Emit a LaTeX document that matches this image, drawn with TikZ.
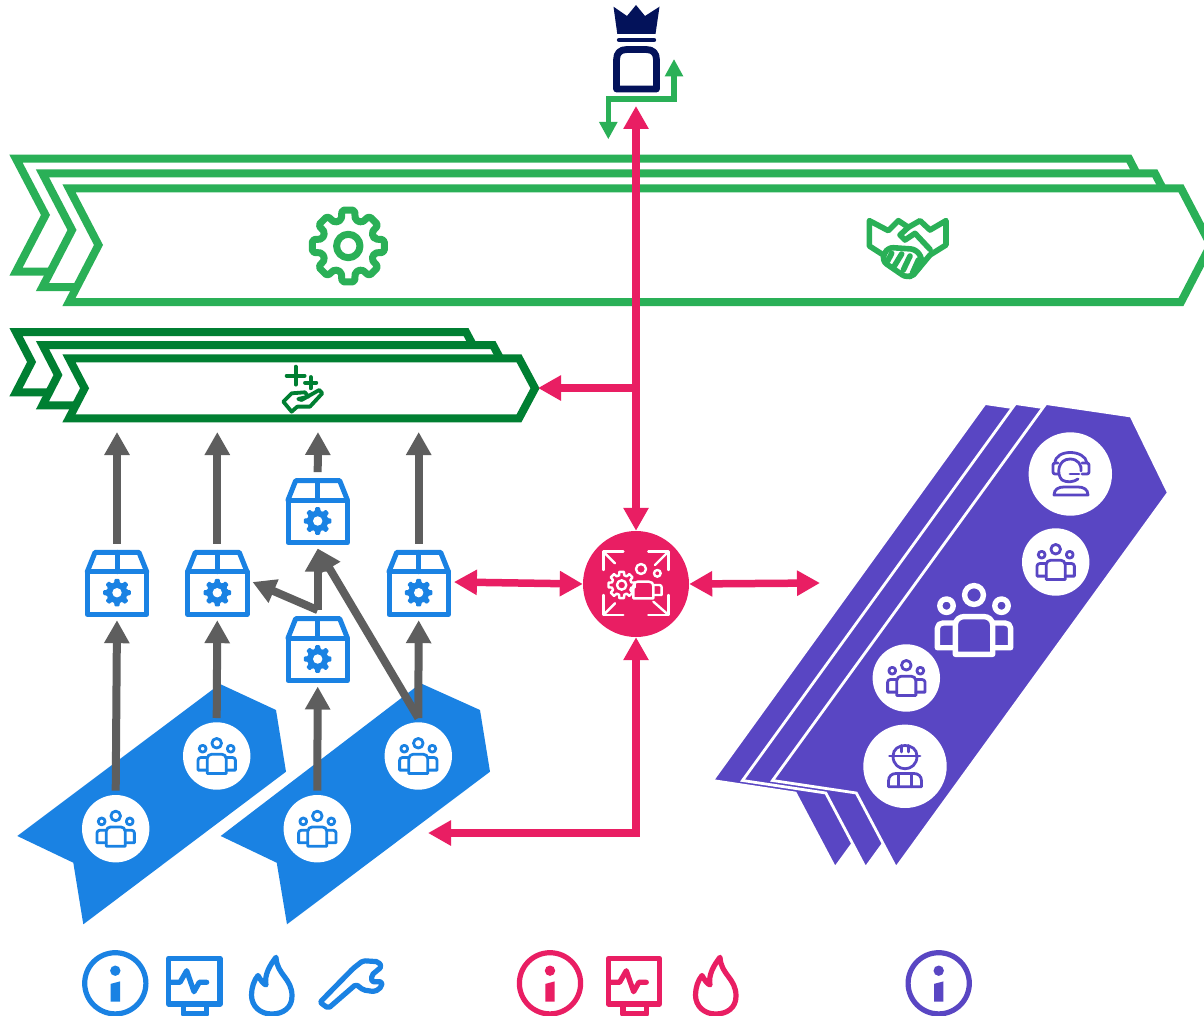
\documentclass[tikz,border=0pt]{standalone}
\usetikzlibrary{arrows.meta}
\definecolor{lgreen}{HTML}{2AB057}
\definecolor{dgreen}{HTML}{007F32}
\definecolor{bluec}{HTML}{1A82E3}
\definecolor{pinkc}{HTML}{E91E63}
\definecolor{purplec}{HTML}{5946C3}
\definecolor{grayc}{HTML}{5E5E5E}
\definecolor{navyc}{HTML}{03125A}
\tikzset{
  iconline/.style={line join=round,line cap=round},
  grayarrow/.style={draw=grayc,line width=8pt,-{Triangle[length=23pt,width=24pt]},color=grayc},
  pinkarrow/.style={draw=pinkc,line width=7.5pt,{Triangle[length=23pt,width=24pt]}-{Triangle[length=23pt,width=24pt]},color=pinkc},
  pinkone/.style={draw=pinkc,line width=7.5pt,-{Triangle[length=23pt,width=24pt]},color=pinkc},
  greenarrow/.style={draw=lgreen,line width=5.5pt,{Triangle[length=17.5pt,width=17.5pt]}-{Triangle[length=17.5pt,width=17.5pt]},color=lgreen},
  lbar/.style={draw=lgreen,line width=8pt,fill=white,miter limit=10},
  dbar/.style={draw=dgreen,line width=8pt,fill=white,miter limit=10},
  whitedisc/.style={circle,fill=white,inner sep=0pt,minimum size=67.4pt,outer sep=4.3pt},
  bigdisc/.style={circle,fill=white,inner sep=0pt,minimum size=83.4pt},
  boxslot/.style={rectangle,inner sep=0pt,minimum width=70pt,minimum height=76pt},
  purpleshape/.style={fill=purplec,draw=white,line width=2.8pt,line join=miter,miter limit=10},
}
% gear outline (centre at origin): outer radius, root radius
\newcommand{\gearoutline}[2]{(-15:#2) \foreach \gi in {0,...,7} {
  -- ({\gi*45-15}:#2) -- ({\gi*45-10}:#1) -- ({\gi*45+10}:#1) -- ({\gi*45+15}:#2)} -- cycle}
% team icon: x,y,scale,colour,line width
\newcommand{\teamicon}[5]{\begin{scope}[shift={(#1,#2)},scale=#3,draw=#4,line width=#5,iconline]
  \draw (0,-25) circle (9.4);
  \draw (-27.5,-14.3) circle (6.7);
  \draw (27.5,-14.3) circle (6.7);
  \draw (-18.7,34.3) -- (-18.7,5) .. controls (-18.7,-0.5) and (-14,-3.4) .. (-10,-3.4) -- (10,-3.4) .. controls (14,-3.4) and (18.7,-0.5) .. (18.7,5) -- (18.7,34.3) -- cycle;
  \draw (-18.7,27.7) -- (-36.6,27.7) -- (-36.6,8) .. controls (-36.6,5) and (-34,3) .. (-31,3) -- (-18.7,3);
  \draw (18.7,27.7) -- (36.6,27.7) -- (36.6,8) .. controls (36.6,5) and (34,3) .. (31,3) -- (18.7,3);
\end{scope}}
% parcel icon
\newcommand{\parcelicon}[2]{\begin{scope}[shift={(#1,#2)},draw=bluec,line width=5pt,iconline]
  \draw (-29.7,-12) rectangle (29.7,30.7);
  \draw (-29.7,-12) -- (-22,-31.3) -- (22,-31.3) -- (29.7,-12);
  \draw (0,-31.3) -- (0,-12);
  \begin{scope}[shift={(0,9)}]
    \fill[bluec,rounded corners=1pt] \gearoutline{14}{10.4};
    \fill[white] (0,0) circle (4.7);
  \end{scope}
\end{scope}}
% info icon
\newcommand{\infoicon}[2]{\begin{scope}[shift={(#1,983.3)}]
  \draw[#2,line width=5.2pt] (0,0) circle (30.6);
  \fill[#2] (0,-12.6) circle (5.2);
  \fill[#2] (-4.7,0.6) -- (4.7,-1.9) -- (4.7,18.4) -- (-4.7,18.4) -- cycle;
\end{scope}}
% monitor icon (x shift from the blue one)
\newcommand{\monitoricon}[2]{\begin{scope}[shift={(#1,0)},draw=#2,line width=5.2pt,iconline]
  \draw (168.7,958.3) rectangle (220,1004);
  \draw (183.3,1004) -- (183.3,1014) -- (206.7,1014) -- (206.7,1004);
  \draw (170,982.3) -- (180,982.3) -- (186.7,970.7) -- (194,991.7) -- (199.3,982.3) -- (206.7,982.3);
\end{scope}}
\newcommand{\flameicon}[2]{\begin{scope}[shift={(#1,0)},draw=#2,line width=5.2pt,iconline]
  \draw (276,957.3) .. controls (277,975) and (292,978) .. (292,996) .. controls (292,1008) and (283,1014) .. (271.5,1014) .. controls (260,1014) and (251.5,1006) .. (251.5,995) .. controls (251.5,988) and (254,980) .. (258,975.5) .. controls (260,979) and (263,984) .. (266,985) .. controls (264,975) and (270,965) .. (276,957.3) -- cycle;
\end{scope}}
\begin{document}
\begin{tikzpicture}[x=1pt,y=-1pt]
\clip (0,0) rectangle (1204,1016);
\fill[white] (0,0) rectangle (1204,1016);

% crown + body
\fill[navyc,line join=round] (617.3,34) -- (613.5,6.7) -- (627,16) -- (636,5) -- (645,16) -- (659.5,6.7) -- (655.5,34) -- cycle;
\draw[navyc,line width=4.4pt,line cap=round] (619,40) -- (654,40);
\draw[navyc,line width=6.8pt,line join=round] (616.5,89) -- (616.5,60) .. controls (616.5,53) and (620,49.5) .. (627,49.5) -- (646,49.5) .. controls (653,49.5) and (656.5,53) .. (656.5,60) -- (656.5,89) -- cycle;

% green pipeline bars
\draw[lbar] (16,158.7) -- (1129,158.7) -- (1158,215) -- (1129,271.7) -- (16,271.7) -- (45.5,215) -- cycle;
\draw[lbar] (42.5,173.5) -- (1155,173.5) -- (1184,230) -- (1155,287) -- (42.5,287) -- (72,230) -- cycle;
\draw[lbar] (69,188.3) -- (1181,188.3) -- (1210.6,245) -- (1181,302) -- (69,302) -- (98.5,245) -- cycle;

% gear in top bar
\begin{scope}[shift={(348.3,246)},draw=lgreen,line width=7pt,iconline]
  \draw[rounded corners=2pt] \gearoutline{36.5}{27};
  \draw (0,0) circle (11.7);
\end{scope}

% handshake
\begin{scope}[shift={(850,190)},scale=0.3333,draw=lgreen,line width=5.6pt,iconline]
  \draw (100,195) -- (58,168) -- (58,92) -- (115,122) -- (145,92) -- (175,112) -- (210,92) -- (240,120) -- (288,92) -- (288,165) -- (240,195) -- (190,255);
  \draw (175,112) -- (150,135) -- (165,150) -- (195,130) -- (240,178);
  \draw[rounded corners=6pt] (112,172) -- (95,212) -- (172,265) -- (195,250) -- (220,215) -- (200,178) -- cycle;
  \draw (125,190) -- (113,213);
  \draw (155,192) -- (133,228);
  \draw (180,198) -- (160,240);
  \draw (205,210) -- (187,250);
\end{scope}

% dark green bars
\draw[dbar] (16,332) -- (466,332) -- (482,362) -- (466,392.3) -- (16,392.3) -- (31.6,362) -- cycle;
\draw[dbar] (42.5,345) -- (493,345) -- (509,375) -- (493,405.3) -- (42.5,405.3) -- (58,375) -- cycle;
\draw[dbar] (69,358.3) -- (519,358.3) -- (535,388.3) -- (519,418.3) -- (69,418.3) -- (84.6,388.3) -- cycle;

% hand with plus signs
\begin{scope}[shift={(0,145)},scale=0.3333,draw=dgreen,line width=3.8pt,iconline]
  \draw (887,665) -- (887,719);
  \draw (860,692) -- (914,692);
  \draw (932,696) -- (932,730);
  \draw (915,713) -- (949,713);
  \draw (850,770) -- (875,745) -- (915,742) -- (925,755) -- (895,762) -- (905,765) -- (958,735) -- (967,745) -- (930,785) -- (892,785) -- (875,800) -- cycle;
\end{scope}

% blue team shapes
\fill[bluec] (17.3,836) -- (73.3,862.7) -- (83.3,924.3) -- (286,771.7) -- (276,710) -- (220,684) -- cycle;
\fill[bluec] (220.7,836) -- (276.7,862.7) -- (287,924.3) -- (490,771.7) -- (480,710) -- (420.7,683.3) -- cycle;

% purple shapes
\path[purpleshape] (985,403.5) -- (1070,416) -- (1107.4,492.7) -- (835,868) -- (795.3,793) -- (712.5,780.5) -- cycle;
\path[purpleshape] (1015.5,403.5) -- (1100.5,416) -- (1137.9,492.7) -- (865.5,868) -- (825.8,793) -- (742.5,780.5) -- cycle;
\path[purpleshape] (1046,403.5) -- (1131,416) -- (1168.4,492.7) -- (896,868) -- (856.3,793) -- (772.5,780.5) -- cycle;

% nodes
\node[whitedisc] (t1) at (115.7,828.7) {};
\node[whitedisc] (t2) at (216.7,756) {};
\node[whitedisc] (t3) at (317.3,828.7) {};
\node[whitedisc] (t4) at (418.3,756) {};
\node[whitedisc] (c2) at (1055.7,562) {};
\node[whitedisc] (c3) at (906.3,678) {};
\node[bigdisc] (c1) at (1070.3,474) {};
\node[bigdisc] (c4) at (905,766.3) {};
\node[boxslot] (b1) at (117,582) {};
\node[boxslot] (b2) at (217.3,582) {};
\node[boxslot] (b3) at (418.7,582) {};
\node[boxslot] (b4) at (317.7,510.3) {};
\node[boxslot] (b5) at (317.7,648.3) {};
\node[circle,fill=pinkc,inner sep=0pt,minimum size=106pt] (hub) at (636,584) {};

\coordinate (e1) at (117,432);
\coordinate (e2) at (217.3,432);
\coordinate (e3) at (318,432);
\coordinate (e4) at (418.7,432);
\coordinate (kingdown) at (636,106);
\coordinate (junction) at (636,388);
\coordinate (bartip) at (538,388);
\coordinate (farright) at (820,583);
\coordinate (teamend) at (428,833);
\coordinate (gup) at (674,59);
\coordinate (gdown) at (608.3,139.3);

% icons in nodes
\teamicon{115.7}{828.7}{0.51}{bluec}{2.8pt}
\teamicon{216.7}{756}{0.51}{bluec}{2.8pt}
\teamicon{317.3}{828.7}{0.51}{bluec}{2.8pt}
\teamicon{418.3}{756}{0.51}{bluec}{2.8pt}
\teamicon{1055.7}{562}{0.51}{purplec}{2.8pt}
\teamicon{906.3}{678}{0.51}{purplec}{2.8pt}
\teamicon{974}{620}{1}{white}{5.4pt}
\parcelicon{117}{583.7}
\parcelicon{217.3}{583.7}
\parcelicon{418.7}{583.7}
\parcelicon{317.7}{512}
\parcelicon{317.7}{650}

% headset
\begin{scope}[shift={(1070,474)},draw=purplec,line width=2.8pt,iconline]
  \draw (-15,-11) .. controls (-15,-25) and (15,-25) .. (17,-11);
  \draw (-8,6) .. controls (-14,0) and (-12,-15) .. (0,-15) .. controls (8,-15) and (12,-9) .. (11,-3);
  \draw (-8,6) .. controls (-3,9) and (4,8) .. (8,5);
  \draw[rounded corners=2pt] (-12,-11) -- (-17,-11) -- (-17,0) -- (-12,0);
  \draw[rounded corners=2pt] (12,-11) -- (19,-11) -- (19,0) -- (12,0) ;
  \draw (0,0) -- (9,0);
  \draw (-16,21) .. controls (-16,15) and (-11,13) .. (-6,13) -- (8,13) .. controls (13,13) and (18,15) .. (18,21) -- cycle;
\end{scope}

% worker
\begin{scope}[shift={(905,766)},draw=purplec,line width=2.8pt,iconline]
  \draw (-15.5,-10) -- (15,-10);
  \draw (-12,-10) .. controls (-12,-24) and (12,-24) .. (12,-10);
  \draw (-12,-10) .. controls (-12,7) and (12,7) .. (12,-10);
  \draw (-3.5,-20.5) -- (-3.5,-14);
  \draw (3.5,-20.5) -- (3.5,-14);
  \draw (-16.5,20.7) -- (-16.5,15) .. controls (-16.5,10) and (-13,7.5) .. (-9,7.5) -- (9,7.5) .. controls (13,7.5) and (16.5,10) .. (16.5,15) -- (16.5,20.7) -- cycle;
  \draw (-6.7,7.5) -- (-6.7,20.7);
  \draw (6.7,7.5) -- (6.7,20.7);
\end{scope}

% hub icon
\begin{scope}[shift={(570,520)},scale=0.3333,draw=white,line width=2.4pt,iconline]
  \draw (160,95) -- (100,95) -- (100,150);
  \draw (105,100) -- (135,130);
  \draw (235,95) -- (295,95) -- (295,150);
  \draw (290,100) -- (255,135);
  \draw (100,225) -- (100,285) -- (160,285);
  \draw (105,280) -- (135,250);
  \draw (295,225) -- (295,285) -- (235,285);
  \draw (290,280) -- (250,245);
  \begin{scope}[shift={(155,195)}]
    \draw \gearoutline{40}{30};
    \draw (0,0) circle (14);
  \end{scope}
  \draw (213,147) circle (15);
  \draw (262,160) circle (10);
  \draw (190,235) -- (190,198) .. controls (190,190) and (195,185) .. (203,185) -- (237,185) .. controls (245,185) and (250,190) .. (250,198) -- (250,235) -- cycle;
  \draw (250,195) -- (268,195) .. controls (273,195) and (275,198) .. (275,202) -- (275,225) -- (250,225);
\end{scope}

% connectors: grey
\draw[grayarrow] (t1.north) -- (b1.south);
\draw[grayarrow] (t2.north) -- (b2.south);
\draw[grayarrow] (t3.north) -- (b5.south);
\draw[grayarrow] (t4.north) -- (b3.south);
\draw[grayarrow] (t4.north) -- (b4.south);
\draw[grayarrow] (b5.north) -- (b2.east);
\draw[grayarrow] (b5.north) -- (b4.south);
\draw[grayarrow] (b1.north) -- (e1);
\draw[grayarrow] (b2.north) -- (e2);
\draw[grayarrow] (b4.north) -- (e3);
\draw[grayarrow] (b3.north) -- (e4);

% connectors: pink
\draw[pinkarrow] (kingdown) -- (hub.north);
\draw[pinkone] (junction) -- (bartip);
\draw[pinkarrow] (b3.east) -- (hub.west);
\draw[pinkarrow] (hub.east) -- (farright);
\draw[pinkarrow,line join=miter] (hub.south) -- (hub.south |- teamend) -- (teamend);

% connector: green
\draw[greenarrow,line join=miter] (gup) -- (gup |- 0,99) -- (gdown |- 0,99) -- (gdown);

% bottom legend
\infoicon{115.3}{bluec}
\monitoricon{0}{bluec}
\flameicon{0}{bluec}
\draw[bluec,line width=5.2pt,iconline,rounded corners=2pt] (320,1002.3) -- (353.3,968.3) -- (363,960.7) -- (378.3,961.7) -- (381.7,966.7) -- (371.7,975) -- (371.7,981.7) -- (381.7,981.7) -- (381.7,986.7) -- (375,991.7) -- (363.3,990) -- (356,984.3) -- (328.3,1008.3) -- cycle;
\infoicon{550}{pinkc}
\monitoricon{439.6}{pinkc}
\flameicon{444}{pinkc}
\infoicon{938.7}{purplec}
\end{tikzpicture}
\end{document}
